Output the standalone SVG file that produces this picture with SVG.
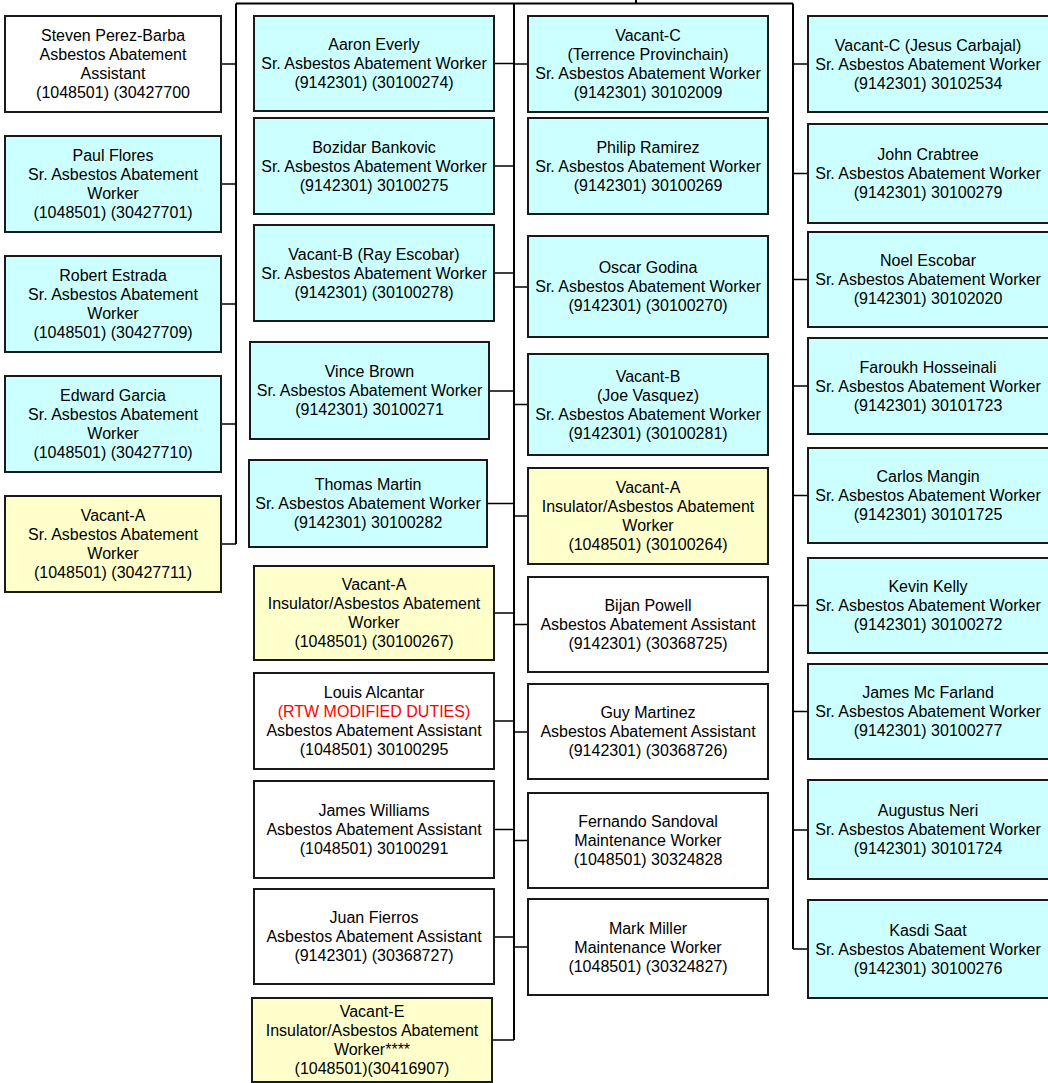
<svg xmlns="http://www.w3.org/2000/svg" width="1048" height="1083" viewBox="0 0 1048 1083">
<style>
.b{stroke:#1a1a1a;stroke-width:2}
.c{fill:#ccffff}
.y{fill:#ffffcc}
.w{fill:#ffffff}
text{font-family:"Liberation Sans",Arial,sans-serif;font-size:16px;fill:#000;text-anchor:middle}
.red{fill:#ff0000}
.ln{stroke:#000;stroke-width:2;fill:none}
.lt{stroke:#000;stroke-width:1.6;fill:none}
</style>
<rect width="1048" height="1083" fill="#ffffff"/>
<g id="connectors">
<path class="ln" d="M236 3.5H793M636 0V3.5M236 3.5V544M793 3.5V949"/>
<path class="ln" stroke-width="2.6" d="M514 3.5V1040"/>
<path class="lt" d="M221 64H236M221 184H236M221 304H236M221 424H236M221 544H236"/>
<path class="lt" d="M494 63.5H514M494 166H514M494 273H514M489 391H514M487 503.5H514M494 613H514M494 721H514M494 829.5H514M494 937H514M492 1040H514"/>
<path class="lt" d="M514 64H528M514 287H528M514 404.5H528M514 516H528M514 624.5H528M514 732H528M514 840.5H528M514 947H528"/>
<path class="lt" d="M793 64H808M793 173.5H808M793 279.5H808M793 386H808M793 495.5H808M793 605.5H808M793 711.5H808M793 830H808M793 949H808"/>
</g>
<g id="n-steven"><rect class="b w" x="5" y="16" width="216" height="96"/><text x="113" y="41.2">Steven Perez-Barba</text><text x="113" y="60.2">Asbestos Abatement</text><text x="113" y="79.2">Assistant</text><text x="113" y="98.2">(1048501) (30427700</text></g>
<g id="n-paul"><rect class="b c" x="5" y="136" width="216" height="96"/><text x="113" y="161.2">Paul Flores</text><text x="113" y="180.2">Sr. Asbestos Abatement</text><text x="113" y="199.2">Worker</text><text x="113" y="218.2">(1048501) (30427701)</text></g>
<g id="n-robert"><rect class="b c" x="5" y="256" width="216" height="96"/><text x="113" y="281.2">Robert Estrada</text><text x="113" y="300.2">Sr. Asbestos Abatement</text><text x="113" y="319.2">Worker</text><text x="113" y="338.2">(1048501) (30427709)</text></g>
<g id="n-edward"><rect class="b c" x="5" y="376" width="216" height="96"/><text x="113" y="401.2">Edward Garcia</text><text x="113" y="420.2">Sr. Asbestos Abatement</text><text x="113" y="439.2">Worker</text><text x="113" y="458.2">(1048501) (30427710)</text></g>
<g id="n-vacant-a1"><rect class="b y" x="5" y="496" width="216" height="96"/><text x="113" y="521.2">Vacant-A</text><text x="113" y="540.2">Sr. Asbestos Abatement</text><text x="113" y="559.2">Worker</text><text x="113" y="578.2">(1048501) (30427711)</text></g>

<g id="n-aaron"><rect class="b c" x="254" y="16" width="240" height="95"/><text x="374" y="50.2">Aaron Everly</text><text x="374" y="69.2">Sr. Asbestos Abatement Worker</text><text x="374" y="88.2">(9142301) (30100274)</text></g>
<g id="n-bozidar"><rect class="b c" x="254" y="118" width="240" height="96"/><text x="374" y="152.7">Bozidar Bankovic</text><text x="374" y="171.7">Sr. Asbestos Abatement Worker</text><text x="374" y="190.7">(9142301) 30100275</text></g>
<g id="n-ray"><rect class="b c" x="254" y="225" width="240" height="96"/><text x="374" y="259.7">Vacant-B (Ray Escobar)</text><text x="374" y="278.7">Sr. Asbestos Abatement Worker</text><text x="374" y="297.7">(9142301) (30100278)</text></g>
<g id="n-vince"><rect class="b c" x="250" y="342" width="239" height="97"/><text x="369.5" y="377.2">Vince Brown</text><text x="369.5" y="396.2">Sr. Asbestos Abatement Worker</text><text x="369.5" y="415.2">(9142301) 30100271</text></g>
<g id="n-thomas"><rect class="b c" x="249" y="460" width="238" height="87"/><text x="368" y="490.2">Thomas Martin</text><text x="368" y="509.2">Sr. Asbestos Abatement Worker</text><text x="368" y="528.2">(9142301) 30100282</text></g>
<g id="n-vacant-a2"><rect class="b y" x="254" y="566" width="240" height="94"/><text x="374" y="590.2">Vacant-A</text><text x="374" y="609.2">Insulator/Asbestos Abatement</text><text x="374" y="628.2">Worker</text><text x="374" y="647.2">(1048501) (30100267)</text></g>
<g id="n-louis"><rect class="b w" x="254" y="673" width="240" height="96"/><text x="374" y="698.2">Louis Alcantar</text><text x="374" y="717.2" class="red">(RTW MODIFIED DUTIES)</text><text x="374" y="736.2">Asbestos Abatement Assistant</text><text x="374" y="755.2">(1048501) 30100295</text></g>
<g id="n-james-w"><rect class="b w" x="254" y="781" width="240" height="97"/><text x="374" y="816.2">James Williams</text><text x="374" y="835.2">Asbestos Abatement Assistant</text><text x="374" y="854.2">(1048501) 30100291</text></g>
<g id="n-juan"><rect class="b w" x="254" y="889" width="240" height="95"/><text x="374" y="923.2">Juan Fierros</text><text x="374" y="942.2">Asbestos Abatement Assistant</text><text x="374" y="961.2">(9142301) (30368727)</text></g>
<g id="n-vacant-e"><rect class="b y" x="252" y="998" width="240" height="84"/><text x="372" y="1017.2">Vacant-E</text><text x="372" y="1036.2">Insulator/Asbestos Abatement</text><text x="372" y="1055.2">Worker****</text><text x="372" y="1074.2">(1048501)(30416907)</text></g>

<g id="n-vacant-c1"><rect class="b c" x="528" y="16" width="240" height="96"/><text x="648" y="41.2">Vacant-C</text><text x="648" y="60.2">(Terrence Provinchain)</text><text x="648" y="79.2">Sr. Asbestos Abatement Worker</text><text x="648" y="98.2">(9142301) 30102009</text></g>
<g id="n-philip"><rect class="b c" x="528" y="118" width="240" height="96"/><text x="648" y="152.7">Philip Ramirez</text><text x="648" y="171.7">Sr. Asbestos Abatement Worker</text><text x="648" y="190.7">(9142301) 30100269</text></g>
<g id="n-oscar"><rect class="b c" x="528" y="236" width="240" height="101"/><text x="648" y="273.2">Oscar Godina</text><text x="648" y="292.2">Sr. Asbestos Abatement Worker</text><text x="648" y="311.2">(9142301) (30100270)</text></g>
<g id="n-joe"><rect class="b c" x="528" y="354" width="240" height="101"/><text x="648" y="381.7">Vacant-B</text><text x="648" y="400.7">(Joe Vasquez)</text><text x="648" y="419.7">Sr. Asbestos Abatement Worker</text><text x="648" y="438.7">(9142301) (30100281)</text></g>
<g id="n-vacant-a3"><rect class="b y" x="528" y="468" width="240" height="96"/><text x="648" y="493.2">Vacant-A</text><text x="648" y="512.2">Insulator/Asbestos Abatement</text><text x="648" y="531.2">Worker</text><text x="648" y="550.2">(1048501) (30100264)</text></g>
<g id="n-bijan"><rect class="b w" x="528" y="577" width="240" height="95"/><text x="648" y="611.2">Bijan Powell</text><text x="648" y="630.2">Asbestos Abatement Assistant</text><text x="648" y="649.2">(9142301) (30368725)</text></g>
<g id="n-guy"><rect class="b w" x="528" y="684" width="240" height="95"/><text x="648" y="718.2">Guy Martinez</text><text x="648" y="737.2">Asbestos Abatement Assistant</text><text x="648" y="756.2">(9142301) (30368726)</text></g>
<g id="n-fernando"><rect class="b w" x="528" y="793" width="240" height="95"/><text x="648" y="827.2">Fernando Sandoval</text><text x="648" y="846.2">Maintenance Worker</text><text x="648" y="865.2">(1048501) 30324828</text></g>
<g id="n-mark"><rect class="b w" x="528" y="899" width="240" height="96"/><text x="648" y="933.7">Mark Miller</text><text x="648" y="952.7">Maintenance Worker</text><text x="648" y="971.7">(1048501) (30324827)</text></g>

<g id="n-jesus"><rect class="b c" x="808" y="16" width="242" height="96"/><text x="928" y="50.7">Vacant-C (Jesus Carbajal)</text><text x="928" y="69.7">Sr. Asbestos Abatement Worker</text><text x="928" y="88.7">(9142301) 30102534</text></g>
<g id="n-john"><rect class="b c" x="808" y="124" width="242" height="99"/><text x="928" y="160.2">John Crabtree</text><text x="928" y="179.2">Sr. Asbestos Abatement Worker</text><text x="928" y="198.2">(9142301) 30100279</text></g>
<g id="n-noel"><rect class="b c" x="808" y="232" width="242" height="95"/><text x="928" y="266.2">Noel Escobar</text><text x="928" y="285.2">Sr. Asbestos Abatement Worker</text><text x="928" y="304.2">(9142301) 30102020</text></g>
<g id="n-faroukh"><rect class="b c" x="808" y="338" width="242" height="96"/><text x="928" y="372.7">Faroukh Hosseinali</text><text x="928" y="391.7">Sr. Asbestos Abatement Worker</text><text x="928" y="410.7">(9142301) 30101723</text></g>
<g id="n-carlos"><rect class="b c" x="808" y="448" width="242" height="95"/><text x="928" y="482.2">Carlos Mangin</text><text x="928" y="501.2">Sr. Asbestos Abatement Worker</text><text x="928" y="520.2">(9142301) 30101725</text></g>
<g id="n-kevin"><rect class="b c" x="808" y="558" width="242" height="95"/><text x="928" y="592.2">Kevin Kelly</text><text x="928" y="611.2">Sr. Asbestos Abatement Worker</text><text x="928" y="630.2">(9142301) 30100272</text></g>
<g id="n-james-mc"><rect class="b c" x="808" y="664" width="242" height="95"/><text x="928" y="698.2">James Mc Farland</text><text x="928" y="717.2">Sr. Asbestos Abatement Worker</text><text x="928" y="736.2">(9142301) 30100277</text></g>
<g id="n-augustus"><rect class="b c" x="808" y="780" width="242" height="99"/><text x="928" y="816.2">Augustus Neri</text><text x="928" y="835.2">Sr. Asbestos Abatement Worker</text><text x="928" y="854.2">(9142301) 30101724</text></g>
<g id="n-kasdi"><rect class="b c" x="808" y="900" width="242" height="98"/><text x="928" y="935.7">Kasdi Saat</text><text x="928" y="954.7">Sr. Asbestos Abatement Worker</text><text x="928" y="973.7">(9142301) 30100276</text></g>
</svg>
